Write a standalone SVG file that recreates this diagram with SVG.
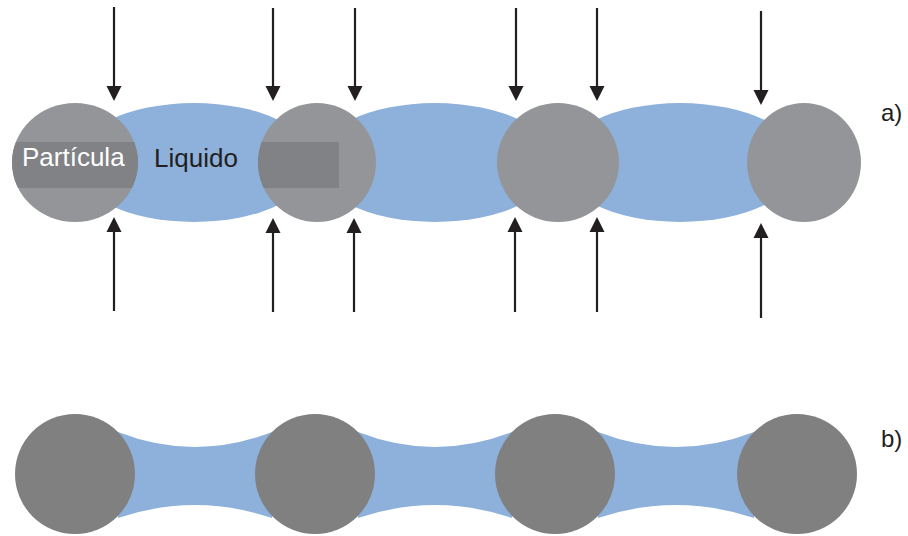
<svg xmlns="http://www.w3.org/2000/svg" width="908" height="536" viewBox="0 0 908 536">
  <style>
    .particle { fill: #939598; }
    .particle-b { fill: #808080; }
    .liquid { fill: #8db1da; }
    .band { fill: #808285; }
    .force { stroke: #231f20; stroke-width: 2.2; fill: none; marker-end: url(#head); }
    .label { font-family: "Liberation Sans", Arial, sans-serif; font-size: 26px; }
    .tag { font-family: "Liberation Sans", Arial, sans-serif; font-size: 24px; fill: #231f20; }
  </style>
  <defs>
    <marker id="head" markerUnits="userSpaceOnUse" markerWidth="16" markerHeight="16" viewBox="0 -8 16 16" refX="0" refY="0" orient="auto">
      <path d="M0,-7.5 L15,0 L0,7.5 Z" fill="#231f20"/>
    </marker>
    <clipPath id="clip-p1"><ellipse cx="75" cy="162.5" rx="63" ry="59.5"/></clipPath>
    <clipPath id="clip-p2"><ellipse cx="317" cy="162.5" rx="59" ry="59.5"/></clipPath>
  </defs>

  <rect width="908" height="536" fill="#ffffff"/>

  <!-- a) particles with liquid lenses between them -->
  <g id="liquid-a1"><ellipse class="liquid" cx="194" cy="162.5" rx="121" ry="59.5"/></g>
  <g id="liquid-a2"><ellipse class="liquid" cx="435" cy="162.5" rx="121" ry="59.5"/></g>
  <g id="liquid-a3"><ellipse class="liquid" cx="680" cy="162.5" rx="121" ry="59.5"/></g>

  <g id="particle-a1">
    <ellipse class="particle" cx="75" cy="162.5" rx="63" ry="59.5"/>
    <rect class="band" x="10" y="142" width="130" height="46" clip-path="url(#clip-p1)"/>
    <text class="label" x="22" y="166" fill="#ffffff">Partícula</text>
  </g>
  <g id="particle-a2">
    <ellipse class="particle" cx="317" cy="162.5" rx="59" ry="59.5"/>
    <rect class="band" x="255" y="142" width="84" height="46" clip-path="url(#clip-p2)"/>
  </g>
  <g id="particle-a3"><ellipse class="particle" cx="558" cy="162.5" rx="61" ry="59.5"/></g>
  <g id="particle-a4"><ellipse class="particle" cx="804" cy="162.5" rx="57" ry="59.5"/></g>

  <g id="liquid-label"><text class="label" x="154" y="167" fill="#231f20">Liquido</text></g>

  <!-- compressive forces acting on the contacts -->
  <g id="connectors">
    <line class="force" x1="114" y1="7" x2="114" y2="86"/>
    <line class="force" x1="273" y1="8" x2="273" y2="86"/>
    <line class="force" x1="355" y1="8" x2="355" y2="86"/>
    <line class="force" x1="516" y1="8" x2="516" y2="86"/>
    <line class="force" x1="597" y1="8" x2="597" y2="86"/>
    <line class="force" x1="761" y1="11" x2="761" y2="90"/>

    <line class="force" x1="114" y1="311" x2="114" y2="232"/>
    <line class="force" x1="273" y1="312" x2="273" y2="233"/>
    <line class="force" x1="354" y1="312" x2="354" y2="233"/>
    <line class="force" x1="515" y1="312" x2="515" y2="232"/>
    <line class="force" x1="597" y1="312" x2="597" y2="232"/>
    <line class="force" x1="761" y1="318" x2="761" y2="238"/>
  </g>

  <g id="tag-a"><text class="tag" x="881" y="121">a)</text></g>

  <!-- b) particles joined by concave liquid bridges -->
  <g id="bridge-b1"><path class="liquid" d="M118,432 Q195,462 272,432 L272,518 Q195,492 118,518 Z"/></g>
  <g id="bridge-b2"><path class="liquid" d="M358,432 Q435,462 512,432 L512,518 Q435,492 358,518 Z"/></g>
  <g id="bridge-b3"><path class="liquid" d="M598,432 Q676,462 754,432 L754,518 Q676,492 598,518 Z"/></g>

  <g id="particle-b1"><circle class="particle-b" cx="75" cy="474" r="60"/></g>
  <g id="particle-b2"><circle class="particle-b" cx="315" cy="474" r="60"/></g>
  <g id="particle-b3"><circle class="particle-b" cx="555" cy="474" r="60"/></g>
  <g id="particle-b4"><circle class="particle-b" cx="797" cy="474" r="60"/></g>

  <g id="tag-b"><text class="tag" x="881" y="447">b)</text></g>
</svg>
